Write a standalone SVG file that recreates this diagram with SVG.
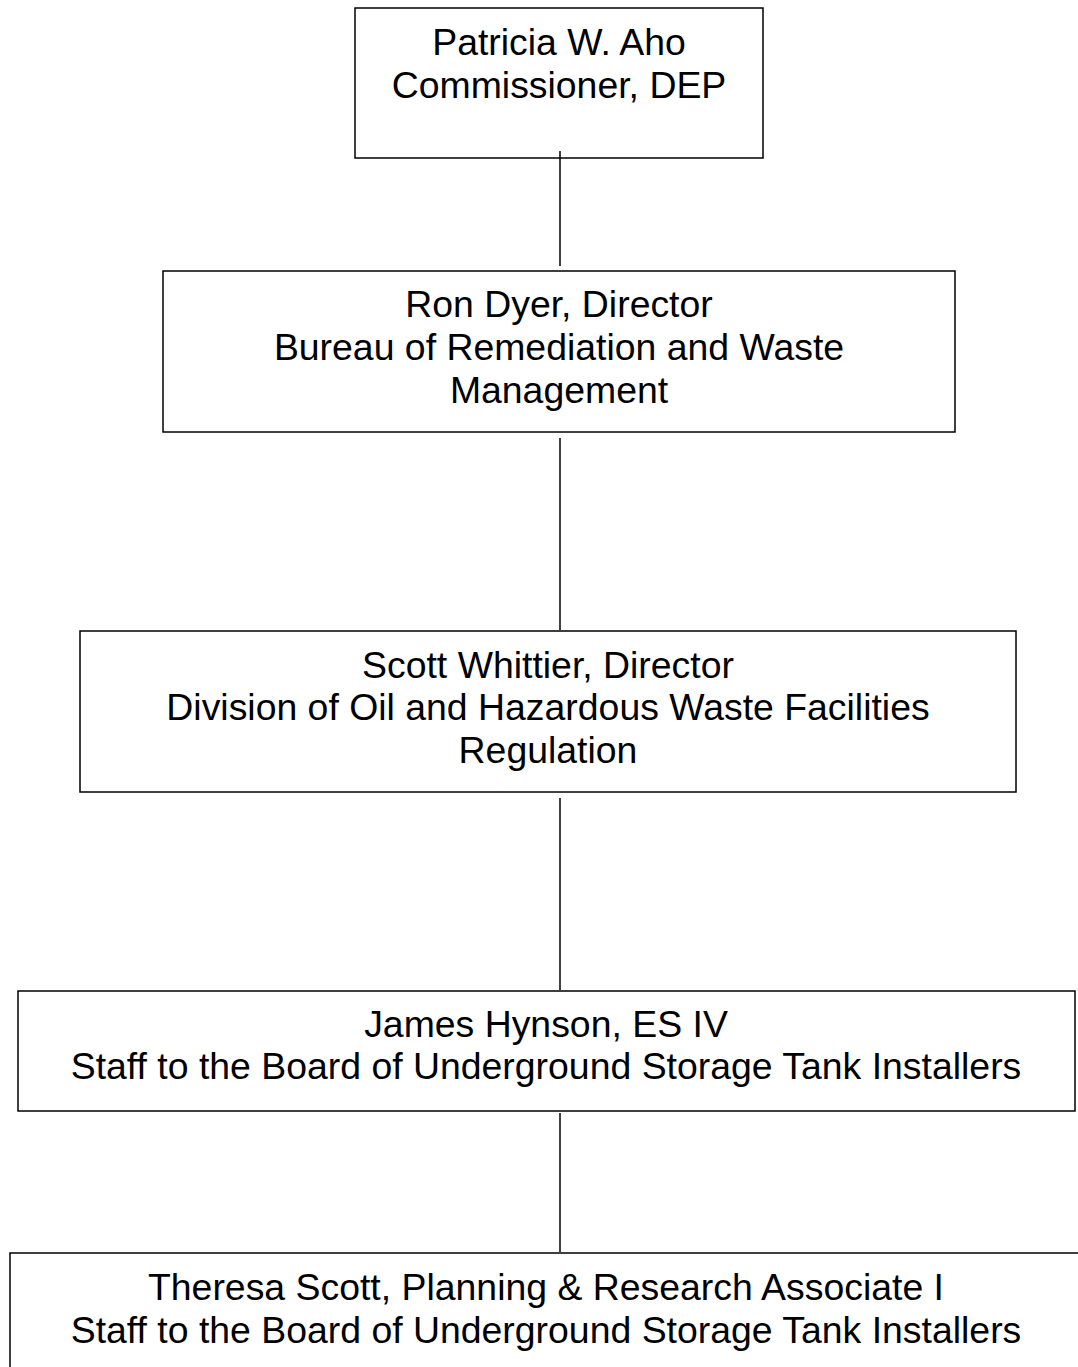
<svg xmlns="http://www.w3.org/2000/svg" width="1078" height="1367" viewBox="0 0 1078 1367">
<style>
rect{fill:#fff;stroke:#000;stroke-width:1.5}
text{font-family:"Liberation Sans",Arial,sans-serif;font-size:37.4px;fill:#000;text-anchor:middle}
line{stroke:#000;stroke-width:1.5}
</style>
<rect x="0" y="0" width="1078" height="1367" style="stroke:none"/>
<g id="n1"><rect x="355" y="8" width="408" height="150"/>
<text x="559" y="55">Patricia W. Aho</text><text x="559" y="98">Commissioner, DEP</text></g>
<g id="n2"><rect x="163" y="271" width="792" height="161"/>
<text x="559" y="317">Ron Dyer, Director</text><text x="559" y="360">Bureau of Remediation and Waste</text><text x="559" y="403">Management</text></g>
<g id="n3"><rect x="80" y="631" width="936" height="161"/>
<text x="548" y="678">Scott Whittier, Director</text><text x="548" y="720">Division of Oil and Hazardous Waste Facilities</text><text x="548" y="763">Regulation</text></g>
<g id="n4"><rect x="18" y="991" width="1057" height="120"/>
<text x="546" y="1037">James Hynson, ES IV</text><text x="546" y="1079">Staff to the Board of Underground Storage Tank Installers</text></g>
<g id="n5"><rect x="10" y="1253" width="1080" height="130"/>
<text x="546" y="1300">Theresa Scott, Planning &amp; Research Associate I</text><text x="546" y="1343">Staff to the Board of Underground Storage Tank Installers</text></g>
<g id="connectors">
<line x1="560" y1="151" x2="560" y2="266"/>
<line x1="560" y1="438" x2="560" y2="630"/>
<line x1="560" y1="798" x2="560" y2="990"/>
<line x1="560" y1="1113" x2="560" y2="1252"/>
</g>
</svg>
